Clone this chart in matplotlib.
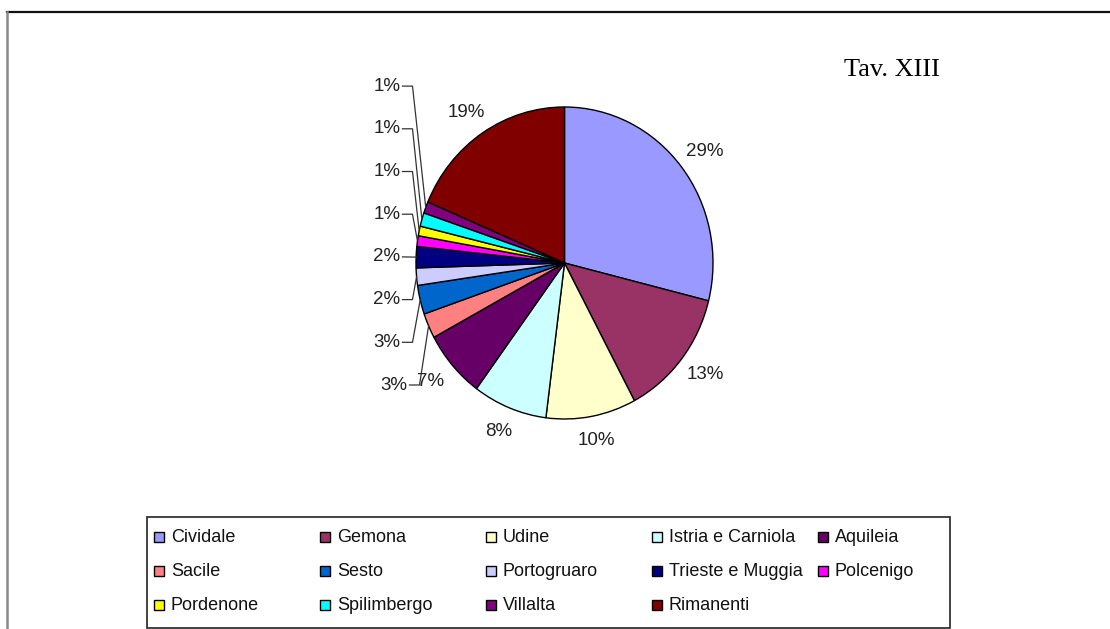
import numpy as np
import matplotlib
matplotlib.use("Agg")
import matplotlib.pyplot as plt
from matplotlib.patches import Rectangle

plt.rcParams["font.family"] = ["Liberation Sans", "DejaVu Sans"]

names = ["Cividale", "Gemona", "Udine", "Istria e Carniola", "Aquileia",
         "Sacile", "Sesto", "Portogruaro", "Trieste e Muggia", "Polcenigo",
         "Pordenone", "Spilimbergo", "Villalta", "Rimanenti"]
shares = [28.9, 13.3, 9.8, 8.1, 7.0, 2.6, 3.0, 1.8, 2.2, 1.1, 1.0, 1.4, 1.2, 18.6]
colors = ["#9999FF", "#993366", "#FFFFCC", "#CCFFFF", "#660066",
          "#FF8080", "#0066CC", "#CCCCFF", "#000080", "#FF00FF",
          "#FFFF00", "#00FFFF", "#800080", "#800000"]
# slices whose label sits in the stacked column on the left
stacked = ["Sacile", "Sesto", "Portogruaro", "Trieste e Muggia",
           "Polcenigo", "Pordenone", "Spilimbergo", "Villalta"]

W, H = 1110, 629
fig = plt.figure(figsize=(W / 100, H / 100), dpi=100)

# background axes in pixel coords for frame, title and legend
bg = fig.add_axes([0, 0, 1, 1])
bg.set_xlim(0, W)
bg.set_ylim(0, H)
bg.axis("off")

# pie axes: slightly taller than wide, like the original
cx, cy = 564.5, H - 263
rx, ry = 148.5, 156
ext = 1.6
ax = fig.add_axes([(cx - ext * rx) / W, (cy - ext * ry) / H,
                   2 * ext * rx / W, 2 * ext * ry / H])
wedges, _ = ax.pie(shares, colors=colors, startangle=90, counterclock=False,
                   radius=1.0, wedgeprops=dict(edgecolor="black", linewidth=1.0))
ax.set_aspect("auto")
ax.set_xlim(-ext, ext)
ax.set_ylim(-ext, ext)
ax.axis("off")

step = 42.7 / ry
k = 0
for w, name, v in zip(wedges, names, shares):
    mid = np.deg2rad((w.theta1 + w.theta2) / 2)
    txt = f"{round(v)}%"
    if name in stacked:
        ty = -122 / ry + k * step
        tx = (-164 + (7 if k == 0 else 0)) / rx
        k += 1
        ex, ey = np.cos(mid), np.sin(mid)
        ax.text(tx, ty, txt, ha="right", va="center", fontsize=13.5, color="#222222")
        gap = 2 / rx
        if name == "Trieste e Muggia":
            ax.plot([tx + gap, ex], [ty, ey], color="#333333", lw=0.9)
        else:
            ax.plot([tx + gap, tx + 12 / rx, ex], [ty, ty, ey], color="#333333", lw=0.9)
    else:
        lx, ly = 1.2 * np.cos(mid), 1.16 * np.sin(mid)
        ax.text(lx, ly, txt, ha="center", va="center", fontsize=13.5, color="#222222")

bg.text(892, H - 70, "Tav. XIII", ha="center", va="center", fontsize=19,
        family="Liberation Serif")

# outer frame
bg.plot([7, W], [H - 12, H - 12], color="#111111", lw=1.6)
bg.plot([7, 7], [H - 12, 0], color="#888888", lw=1.8)

# legend box
bg.add_patch(Rectangle((147, H - 628), 803, 111, fill=False,
                       edgecolor="#222222", lw=1.2))
for i, (name, c) in enumerate(zip(names, colors)):
    col, row = i % 5, i // 5
    sx = 154 + col * 166
    sy = H - (537 + row * 34)
    bg.add_patch(Rectangle((sx, sy - 5), 10, 10, facecolor=c,
                           edgecolor="black", lw=1.0))
    bg.text(sx + 17, sy, name, ha="left", va="center", fontsize=13,
            color="#111111")

fig.savefig("out.png", dpi=100)
